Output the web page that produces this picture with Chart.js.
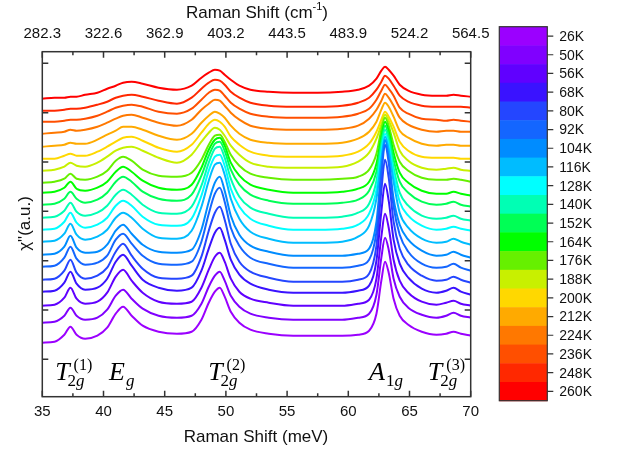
<!DOCTYPE html>
<html>
<head>
<meta charset="utf-8">
<style>
  html, body { margin: 0; padding: 0; background: #fff; }
  #wrap { width: 623px; height: 451px; }
</style>
<script src="https://cdn.jsdelivr.net/npm/chart.js"></script>
</head>
<body>
<div id="wrap"><canvas id="c" width="623" height="451"></canvas></div>
<script>
// ---------------- data ----------------
const energyMeV = [35, 36, 36.8, 37.3, 37.8, 38.5, 39.5, 40.3, 41, 41.6, 42.3, 43.2, 44.5, 46, 47.2, 48, 48.6, 49.1, 49.5, 49.9, 50.4, 51.1, 52, 53.5, 55.5, 57.5, 59.5, 60.8, 61.7, 62.3, 62.7, 63, 63.3, 63.7, 64.2, 64.9, 66, 67.2, 68, 68.6, 69.2, 70];

const temps = ['26K','50K','56K','68K','80K','92K','104K','116K','128K','140K','152K','164K','176K','188K','200K','212K','224K','236K','248K','260K'];

const colors = ['#9b00ff','#8000ff','#6000ff','#3a12ff','#2446ff','#1466ff','#008cff','#00bcff','#00ffff','#00ffb4','#00ff55','#00ff00','#66f000','#c8f000','#ffd800','#ffaa00','#ff7800','#ff4f00','#ff2800','#ff0000'];

// offset spectra (a.u., vertically stacked), one array per temperature
const t26  = [53, 54, 61, 69, 61, 57, 60, 68, 82, 89, 80, 70, 64, 62, 64, 76, 93, 104, 108, 99, 84, 73, 66, 62, 60, 60, 60, 61, 65, 82, 115, 134, 123, 97, 80, 71, 64, 61, 62, 64, 62, 60];
const t50  = [73, 74, 80, 88, 80, 76, 78, 86, 100, 106, 97, 87, 80, 78, 80, 92, 109, 120, 124, 115, 100, 89, 82, 78, 76, 76, 76, 78, 82, 101, 138, 158, 146, 117, 99, 88, 81, 78, 80, 83, 80, 78];
const t56  = [90, 91, 98, 108, 97, 92, 94, 103, 119, 126, 115, 103, 94, 92, 94, 108, 126, 139, 143, 134, 117, 104, 97, 93, 90, 90, 90, 92, 96, 117, 159, 182, 168, 136, 115, 103, 94, 91, 93, 95, 92, 90];
const t68  = [104, 105, 113, 124, 112, 106, 108, 117, 134, 141, 130, 116, 108, 105, 108, 125, 147, 163, 168, 156, 136, 121, 112, 106, 103, 103, 103, 105, 110, 135, 184, 212, 195, 156, 132, 118, 107, 103, 105, 108, 104, 101];
const t80  = [116, 117, 125, 136, 123, 117, 120, 128, 144, 152, 140, 127, 118, 117, 120, 139, 165, 183, 189, 176, 152, 134, 124, 118, 114, 114, 114, 116, 122, 150, 205, 236, 218, 174, 147, 131, 120, 115, 116, 119, 116, 113];
const t92  = [129, 130, 138, 149, 137, 131, 133, 140, 156, 162, 152, 140, 132, 131, 134, 154, 182, 202, 208, 194, 168, 150, 138, 132, 128, 128, 128, 130, 136, 164, 220, 251, 233, 189, 161, 144, 132, 128, 129, 132, 128, 125];
const t104 = [141, 142, 149, 160, 148, 143, 144, 151, 165, 171, 162, 151, 144, 143, 146, 166, 194, 213, 219, 205, 180, 161, 150, 144, 140, 140, 140, 142, 147, 174, 227, 256, 238, 197, 171, 156, 145, 140, 141, 144, 141, 138];
const t116 = [154, 155, 162, 172, 161, 156, 159, 166, 178, 183, 178, 167, 158, 157, 165, 189, 215, 231, 233, 221, 197, 177, 164, 157, 153, 153, 154, 159, 170, 197, 237, 259, 246, 214, 183, 168, 157, 153, 154, 157, 154, 151];
const t128 = [166, 167, 174, 183, 173, 168, 171, 178, 190, 195, 190, 179, 171, 170, 177, 200, 225, 239, 241, 230, 207, 189, 177, 170, 166, 166, 167, 171, 182, 206, 243, 262, 250, 221, 194, 180, 170, 166, 167, 169, 167, 165];
const t140 = [178, 179, 185, 193, 184, 180, 183, 190, 201, 206, 201, 191, 183, 182, 189, 210, 233, 247, 249, 238, 217, 199, 188, 182, 178, 178, 179, 183, 192, 215, 249, 266, 255, 228, 203, 190, 180, 177, 178, 180, 177, 175];
const t152 = [191, 192, 197, 204, 197, 193, 196, 203, 214, 219, 214, 204, 197, 195, 201, 220, 240, 252, 254, 245, 226, 211, 201, 195, 192, 192, 193, 196, 205, 224, 254, 270, 260, 236, 214, 203, 194, 191, 192, 194, 191, 189];
const t164 = [203, 204, 208, 214, 207, 205, 208, 214, 224, 229, 224, 215, 208, 206, 211, 228, 246, 256, 258, 250, 233, 220, 211, 206, 203, 203, 204, 207, 214, 232, 259, 274, 265, 243, 223, 213, 205, 202, 202, 204, 202, 200];
const t176 = [213, 214, 217, 222, 217, 216, 219, 225, 235, 239, 235, 226, 220, 219, 223, 236, 251, 260, 261, 254, 241, 230, 222, 218, 216, 216, 217, 219, 226, 242, 266, 278, 270, 251, 234, 225, 218, 216, 216, 217, 216, 214];
const t188 = [225, 226, 229, 233, 230, 229, 233, 239, 245, 248, 249, 245, 238, 233, 241, 254, 263, 268, 266, 260, 250, 241, 233, 229, 228, 228, 229, 234, 243, 257, 271, 281, 275, 263, 245, 235, 228, 226, 227, 228, 226, 225];
const t200 = [237, 237, 240, 242, 240, 240, 244, 249, 254, 258, 259, 255, 248, 244, 251, 263, 272, 276, 274, 269, 259, 251, 244, 240, 239, 239, 240, 244, 252, 264, 276, 284, 279, 269, 254, 245, 239, 238, 238, 238, 237, 237];
const t212 = [249, 250, 251, 253, 252, 252, 256, 261, 265, 269, 269, 266, 260, 256, 262, 273, 280, 284, 282, 278, 270, 262, 256, 253, 252, 252, 253, 257, 264, 274, 286, 293, 289, 279, 265, 258, 252, 250, 251, 251, 250, 250];
const t224 = [262, 263, 264, 266, 265, 266, 269, 273, 277, 280, 281, 278, 273, 270, 276, 286, 292, 296, 295, 290, 283, 276, 270, 267, 266, 266, 267, 270, 277, 286, 295, 302, 298, 290, 278, 271, 266, 264, 265, 265, 264, 264];
const t236 = [274, 274, 275, 276, 276, 277, 280, 284, 288, 290, 291, 289, 284, 282, 287, 296, 303, 306, 305, 300, 293, 287, 282, 279, 278, 278, 279, 282, 287, 296, 305, 311, 307, 300, 288, 282, 277, 276, 275, 276, 275, 274];
const t248 = [285, 285, 286, 287, 287, 288, 291, 294, 298, 300, 301, 299, 295, 292, 298, 307, 313, 316, 315, 311, 304, 298, 293, 290, 289, 289, 290, 293, 298, 306, 314, 320, 317, 310, 300, 294, 290, 289, 289, 289, 289, 288];
const t260 = [297, 298, 298, 299, 299, 301, 303, 307, 310, 313, 314, 312, 308, 306, 310, 318, 323, 326, 325, 321, 316, 310, 306, 304, 303, 303, 304, 306, 310, 317, 325, 329, 326, 320, 311, 305, 301, 300, 300, 301, 300, 299];

const seriesList = [t26, t50, t56, t68, t80, t92, t104, t116, t128, t140, t152, t164, t176, t188, t200, t212, t224, t236, t248, t260];

const bottomTickValues = [35, 40, 45, 50, 55, 60, 65, 70];
const topTickLabels = ['282.3', '322.6', '362.9', '403.2', '443.5', '483.9', '524.2', '564.5'];
const yTickValues = [36.4, 85.7, 135, 184.4, 233.7, 283, 332.4];

// peak annotations: [main letter, subscript, superscript]
const peakNames = [['T', '2g', '(1)'], ['E', 'g', ''], ['T', '2g', '(2)'], ['A', '1g', ''], ['T', '2g', '(3)']];
const peakNameEnergy = [36.05, 40.45, 48.55, 61.7, 66.5];

// ---------------- drawing ----------------
const SANS = '"Liberation Sans", Arial, sans-serif';
const SERIF = '"Liberation Serif", "Times New Roman", serif';

function drawMath(ctx, x, base, main, sub, sup) {
  ctx.textAlign = 'left';
  ctx.textBaseline = 'alphabetic';
  ctx.font = 'italic 26px ' + SERIF;
  ctx.fillText(main, x, base);
  const w = ctx.measureText(main).width;
  const subX = main === 'T' ? x + w - 2 : x + w + 1;
  // subscript: digits upright, letters italic
  let cx = subX;
  for (const ch of sub) {
    ctx.font = (/[0-9]/.test(ch) ? '' : 'italic ') + '17px ' + SERIF;
    ctx.fillText(ch, cx, base + 6);
    cx += ctx.measureText(ch).width;
  }
  if (sup) {
    ctx.font = '16px ' + SERIF;
    ctx.fillText(sup, x + w + 4, base - 10);
  }
}

const framePlugin = {
  id: 'frame',
  afterDraw(chart) {
    const { ctx, chartArea: a, scales } = chart;
    const xs = scales.x, ys = scales.y;
    ctx.save();
    ctx.strokeStyle = '#333';
    ctx.lineWidth = 1.5;
    ctx.strokeRect(a.left, a.top, a.right - a.left, a.bottom - a.top);
    ctx.beginPath();
    // x major and minor ticks, inward, bottom and top
    for (let i = 0; i < bottomTickValues.length; i++) {
      const px = xs.getPixelForValue(bottomTickValues[i]);
      ctx.moveTo(px, a.bottom); ctx.lineTo(px, a.bottom - 6);
      ctx.moveTo(px, a.top); ctx.lineTo(px, a.top + 6);
      if (i < bottomTickValues.length - 1) {
        const pm = xs.getPixelForValue((bottomTickValues[i] + bottomTickValues[i + 1]) / 2);
        ctx.moveTo(pm, a.bottom); ctx.lineTo(pm, a.bottom - 3.5);
        ctx.moveTo(pm, a.top); ctx.lineTo(pm, a.top + 3.5);
      }
    }
    for (const v of yTickValues) {
      const py = ys.getPixelForValue(v);
      ctx.moveTo(a.left, py); ctx.lineTo(a.left + 6, py);
      ctx.moveTo(a.right, py); ctx.lineTo(a.right - 6, py);
    }
    ctx.stroke();

    // axis titles
    ctx.fillStyle = '#111';
    ctx.textBaseline = 'alphabetic';
    ctx.font = '17px ' + SANS;
    ctx.textAlign = 'center';
    ctx.fillText('Raman Shift (meV)', 256, 442);
    // top title with superscript
    const p1 = 'Raman Shift (cm', p2 = '-1', p3 = ')';
    ctx.font = '17px ' + SANS; const w1 = ctx.measureText(p1).width, w3 = ctx.measureText(p3).width;
    ctx.font = '11px ' + SANS; const w2 = ctx.measureText(p2).width;
    let sx = 257 - (w1 + w2 + w3) / 2;
    ctx.textAlign = 'left';
    ctx.font = '17px ' + SANS; ctx.fillText(p1, sx, 17.5); sx += w1;
    ctx.font = '11px ' + SANS; ctx.fillText(p2, sx, 10); sx += w2;
    ctx.font = '17px ' + SANS; ctx.fillText(p3, sx, 17.5);
    // y title
    ctx.save();
    ctx.translate(30, 223.5);
    ctx.rotate(-Math.PI / 2);
    ctx.textAlign = 'center';
    ctx.font = '17px ' + SANS;
    ctx.fillText('\u03c7"(a.u.)', 0, 0);
    ctx.restore();

    // peak names
    ctx.fillStyle = '#000';
    for (let i = 0; i < peakNames.length; i++) {
      const px = xs.getPixelForValue(peakNameEnergy[i]);
      drawMath(ctx, px, a.bottom - 17, peakNames[i][0], peakNames[i][1], peakNames[i][2]);
    }

    // colour bar legend
    const bx = 499.3, bw = 48, by = 26.7, bh = 374;
    const ch = bh / temps.length;
    for (let i = 0; i < temps.length; i++) {
      ctx.fillStyle = colors[i];
      ctx.fillRect(bx, by + i * ch, bw, ch + 0.5);
    }
    ctx.strokeStyle = '#333';
    ctx.lineWidth = 1.2;
    ctx.strokeRect(bx, by, bw, bh);
    ctx.beginPath();
    for (let i = 0; i < temps.length; i++) {
      const cy = by + (i + 0.5) * ch;
      ctx.moveTo(bx + bw, cy); ctx.lineTo(bx + bw + 6, cy);
    }
    ctx.stroke();
    ctx.fillStyle = '#111';
    ctx.font = '14px ' + SANS;
    ctx.textAlign = 'left';
    ctx.textBaseline = 'middle';
    for (let i = 0; i < temps.length; i++) {
      ctx.fillText(temps[i], bx + bw + 12, by + (i + 0.5) * ch + 1);
    }
    ctx.restore();
  }
};

const datasets = seriesList.map((vals, i) => ({
  label: temps[i],
  data: energyMeV.map((e, j) => ({ x: e, y: vals[j] })),
  borderColor: colors[i],
  backgroundColor: colors[i],
  borderWidth: 2,
  pointRadius: 0,
  fill: false,
  cubicInterpolationMode: 'monotone'
}));

new Chart(document.getElementById('c'), {
  type: 'line',
  data: { datasets },
  options: {
    responsive: false,
    animation: false,
    devicePixelRatio: 1,
    layout: { padding: { left: 0, top: 0, bottom: 0, right: 152.3 } },
    plugins: { legend: { display: false }, tooltip: { enabled: false } },
    scales: {
      x: {
        type: 'linear', position: 'bottom', min: 35, max: 70,
        afterBuildTicks: (s) => { s.ticks = bottomTickValues.map(v => ({ value: v })); },
        ticks: { font: { size: 15, family: SANS }, color: '#111', padding: 6, maxRotation: 0, autoSkip: false },
        grid: { display: false, drawTicks: false },
        border: { display: false },
        afterFit: (s) => { s.height = 54.3; }
      },
      xTop: {
        type: 'linear', position: 'top', min: 35, max: 70,
        afterBuildTicks: (s) => { s.ticks = bottomTickValues.map(v => ({ value: v })); },
        ticks: { font: { size: 15, family: SANS }, color: '#111', padding: 9, maxRotation: 0, autoSkip: false,
                 callback: (v, i) => topTickLabels[i] },
        grid: { display: false, drawTicks: false },
        border: { display: false },
        afterFit: (s) => { s.height = 51.7; }
      },
      y: {
        type: 'linear', min: -1, max: 344,
        afterBuildTicks: (s) => { s.ticks = yTickValues.map(v => ({ value: v })); },
        ticks: { display: false },
        grid: { display: false, drawTicks: false },
        border: { display: false },
        afterFit: (s) => { s.width = 42.3; }
      }
    }
  },
  plugins: [framePlugin]
});
</script>
</body>
</html>
